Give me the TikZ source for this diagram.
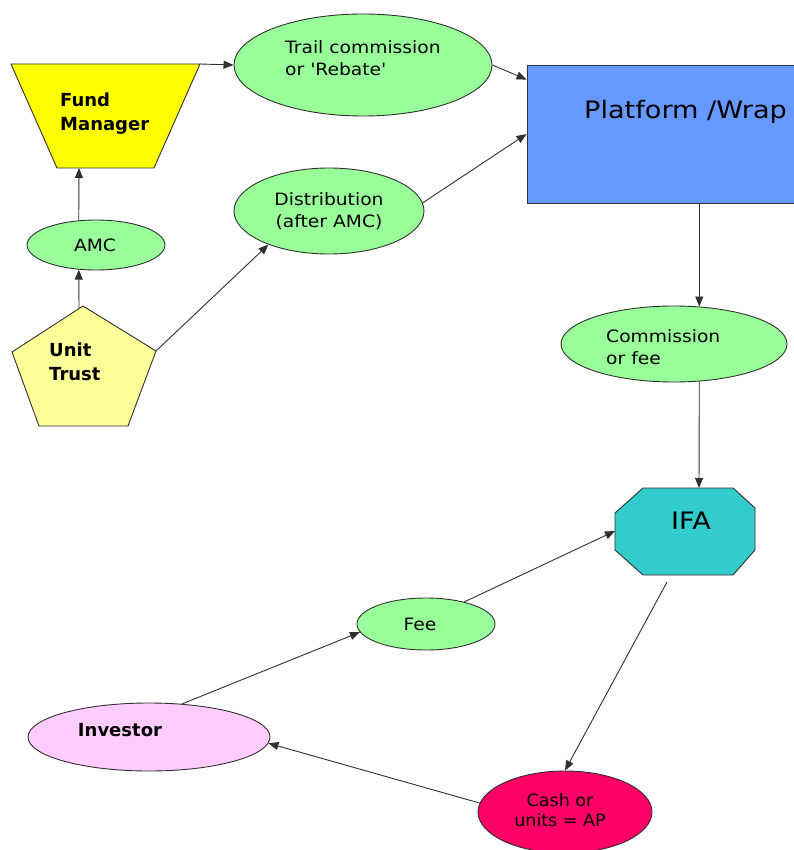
\documentclass[tikz,border=0pt]{standalone}
\usepackage{fontspec}
\setmainfont{DejaVu Sans}
\newfontfamily\regfont{DejaVu Sans}[FakeStretch=1.1]
\newfontfamily\platfont{DejaVu Sans}[FakeStretch=1.13]
\newfontfamily\narfont{DejaVu Sans}[FakeStretch=1.03]
\usetikzlibrary{shapes.geometric,arrows.meta,calc}
\definecolor{lgreen}{HTML}{99FF99}
\definecolor{fmyellow}{HTML}{FFFF00}
\definecolor{utyellow}{HTML}{FFFF99}
\definecolor{platblue}{HTML}{6699FF}
\definecolor{ifateal}{HTML}{33CCCC}
\definecolor{invpink}{HTML}{FFCCFF}
\definecolor{cashred}{HTML}{FF0066}
\definecolor{edge}{HTML}{303030}
\tikzset{
  shapeborder/.style={draw=edge, line width=0.9pt},
  ell/.style={shapeborder, ellipse, inner sep=0pt},
  gell/.style={ell, fill=lgreen},
  txt/.style={inner sep=0pt, font=\regfont\fontsize{17}{22}\selectfont, text=black},
  btxt/.style={inner sep=0pt, font=\fontsize{18}{24}\selectfont\bfseries, text=black},
  arr/.style={draw=edge, line width=0.9pt, -{Triangle[length=10pt,width=8pt]}},
}
\begin{document}
\begin{tikzpicture}[x=1pt,y=-1pt]
\useasboundingbox[fill=white] (0,0) rectangle (793,850);

% ---- shapes ----
\path[shapeborder, fill=fmyellow] (11,64) coordinate (fmTL) -- (200,64) coordinate (fmTR)
   -- (154,168) coordinate (fmBR) -- (57,168) coordinate (fmBL) -- cycle;
\coordinate (fmIn) at (79,168);

\path[shapeborder, fill=utyellow] (83,306) coordinate (utTop) -- (156,351) coordinate (utR)
   -- (128,426) -- (39,426) -- (12,352) -- cycle;
\coordinate (utOut) at (79,308);

\node[shapeborder, rectangle, fill=platblue, minimum width=269pt, minimum height=138pt, inner sep=0pt] (box) at (661.5,134) {};

\path[shapeborder, fill=ifateal] (643,488) -- (733,488) -- (755,508) -- (755,550)
   -- (733,575) -- (643,575) -- (615,550) -- (615,513) -- cycle;
\coordinate (ifaTop) at (699,488);
\coordinate (ifaL) at (615,531);
\coordinate (ifaOut) at (667,582);

\node[gell, minimum width=258pt, minimum height=102pt] (trail) at (363,65) {};
\node[gell, minimum width=190pt, minimum height=86pt] (dist) at (329,211) {};
\node[gell, minimum width=138pt, minimum height=50pt] (amc) at (96,245) {};
\node[gell, minimum width=226pt, minimum height=76pt] (comm) at (674,344) {};
\node[gell, minimum width=138pt, minimum height=52pt] (fee) at (426,624) {};
\node[ell, fill=invpink, minimum width=242pt, minimum height=68pt] (inv) at (149,737) {};
\node[ell, fill=cashred, minimum width=174pt, minimum height=82pt] (cash) at (565,812) {};

% ---- texts ----
\node[btxt, anchor=west, align=left] (fmtxt) at (60,114) {Fund\\Manager};
\node[btxt, anchor=west, align=left] (uttxt) at (49,362) {Unit\\Trust};
\node[txt, anchor=west, align=left] (trailtxt) at (285,58) {Trail commission\\or 'Rebate'};
\node[txt, align=center] (disttxt) at (329,211) {Distribution\\(after AMC)};
\node[txt] (amctxt) at (95,245) {AMC};
\node[inner sep=0pt, font=\platfont\fontsize{24}{28}\selectfont, anchor=west] (plattxt) at (584,112) {Platform /Wrap};
\node[txt, anchor=west, align=left] (commtxt) at (606,347) {Commission\\or fee};
\node[inner sep=0pt, font=\platfont\fontsize{24}{28}\selectfont] (ifatxt) at (691,521) {IFA};
\node[txt] (feetxt) at (420,624) {Fee};
\node[btxt] (invtxt) at (120,730) {Investor};
\node[inner sep=0pt, text=black, align=center, font=\narfont\fontsize{17}{20}\selectfont] (cashtxt) at (560,810) {Cash or\\units = AP};

% ---- connectors ----
\draw[arr] (fmTR) -- (trail.west);
\draw[arr] (amc.125) -- (fmIn);
\draw[arr] (utOut) -- (amc.235);
\draw[arr] (utR) -- (dist.209);
\draw[arr] (trail.east) -- ([yshift=-15pt]box.north west);
\draw[arr] (dist.5) -- (box.west);
\draw[arr] (comm.56 |- box.south) -- (comm.56);
\draw[arr] (comm.-56) -- (ifaTop);
\draw[arr] (fee.30) -- (ifaL);
\draw[arr] (inv.45) -- (fee.187);
\draw[arr] (ifaOut) -- (cash.north);
\draw[arr] (cash.174) -- (inv.-3);
\end{tikzpicture}
\end{document}
